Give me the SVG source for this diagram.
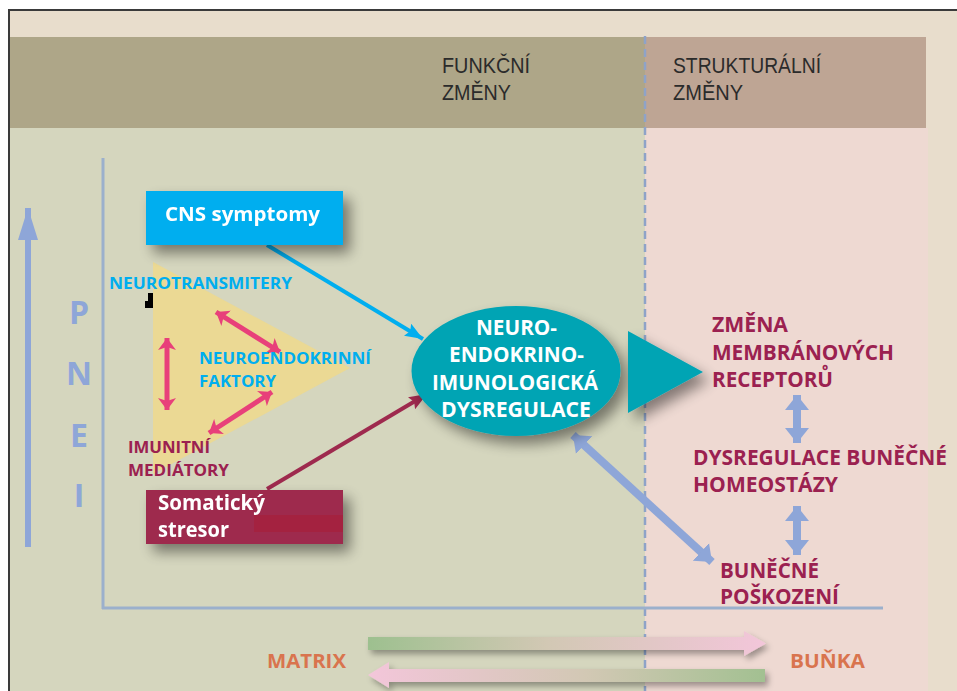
<svg xmlns="http://www.w3.org/2000/svg" width="957" height="691" viewBox="0 0 957 691">
  <style>
    .hdr { font-family: "Liberation Sans", "Open Sans", sans-serif; font-size: 22px; fill: #2b2b2b; }
    .b { font-family: "Open Sans", "Liberation Sans", sans-serif; font-weight: 700; }
    .cyan { fill: #00aeef; font-size: 16px; }
    .crim { fill: #9b2150; }
    .sm { font-size: 16.5px; }
    .rt { font-size: 20.5px; }
    .wt { fill: #ffffff; }
    .pnei { fill: #8ea6d8; font-size: 32px; text-anchor: middle; }
    .orng { fill: #d9744e; font-size: 20px; }
    .pink { stroke: #e8407a; stroke-width: 5; fill: none; }
    .blu { stroke: #8ea6d8; stroke-width: 8; fill: none; }
  </style>
  <defs>
    <filter id="sh" x="-30%" y="-30%" width="170%" height="170%">
      <feGaussianBlur in="SourceAlpha" stdDeviation="7"/>
      <feOffset dx="7" dy="8" result="o"/>
      <feComponentTransfer><feFuncA type="linear" slope="0.45"/></feComponentTransfer>
      <feMerge><feMergeNode/><feMergeNode in="SourceGraphic"/></feMerge>
    </filter>
    <filter id="sh2" x="-10%" y="-50%" width="120%" height="250%">
      <feGaussianBlur in="SourceAlpha" stdDeviation="3"/>
      <feOffset dx="3" dy="4" result="o"/>
      <feComponentTransfer><feFuncA type="linear" slope="0.35"/></feComponentTransfer>
      <feMerge><feMergeNode/><feMergeNode in="SourceGraphic"/></feMerge>
    </filter>
    <linearGradient id="gR" gradientUnits="userSpaceOnUse" x1="368" y1="0" x2="766" y2="0">
      <stop offset="0" stop-color="#9dc08f"/>
      <stop offset="0.45" stop-color="#d2c8b4"/>
      <stop offset="1" stop-color="#f3c6da"/>
    </linearGradient>
    <linearGradient id="gL" gradientUnits="userSpaceOnUse" x1="368" y1="0" x2="766" y2="0">
      <stop offset="0" stop-color="#f3c6da"/>
      <stop offset="0.55" stop-color="#d2c8b4"/>
      <stop offset="1" stop-color="#a2c091"/>
    </linearGradient>
    <marker id="mPink" viewBox="0 0 12 18" markerUnits="userSpaceOnUse" markerWidth="12" markerHeight="18" refX="12" refY="9" orient="auto-start-reverse">
      <path d="M0,0 L12,9 L0,18 L3,9 z" fill="#e8407a"/>
    </marker>
    <marker id="mCyan" viewBox="0 0 18 14" markerUnits="userSpaceOnUse" markerWidth="18" markerHeight="14" refX="18" refY="7" orient="auto">
      <path d="M0,0 L18,7 L0,14 L3,7 z" fill="#00aeef"/>
    </marker>
    <marker id="mCrim" viewBox="0 0 18 14" markerUnits="userSpaceOnUse" markerWidth="18" markerHeight="14" refX="18" refY="7" orient="auto">
      <path d="M0,0 L18,7 L0,14 L3,7 z" fill="#9e2a4e"/>
    </marker>
    <marker id="mBlue" viewBox="0 0 15 24" markerUnits="userSpaceOnUse" markerWidth="15" markerHeight="24" refX="15" refY="12" orient="auto-start-reverse">
      <path d="M0,0 L15,12 L0,24 z" fill="#8ea6d8"/>
    </marker>
    <marker id="mBig" viewBox="0 0 32 20" markerUnits="userSpaceOnUse" markerWidth="32" markerHeight="20" refX="32" refY="10" orient="auto">
      <path d="M0,0 L32,10 L0,20 z" fill="#8ea6d8"/>
    </marker>
  </defs>

  <!-- background -->
  <g id="background">
    <rect x="0" y="0" width="957" height="691" fill="#ffffff"/>
    <rect x="9" y="10" width="948" height="681" fill="#e8ddcc"/>
    <rect x="10" y="37" width="635" height="91" fill="#aea688"/>
    <rect x="645" y="37" width="281" height="91" fill="#bea594"/>
    <rect x="10" y="128" width="635" height="563" fill="#d5d6be"/>
    <rect x="645" y="128" width="283" height="563" fill="#eed9d2"/>
    <path d="M9,691 V10 H957" fill="none" stroke="#3a3a3a" stroke-width="2"/>
    <line x1="645" y1="36" x2="645" y2="691" stroke="#8ea3c8" stroke-width="2.5" stroke-dasharray="8,5"/>
  </g>

  <g id="header">
    <text class="hdr" x="442" y="73" textLength="88" lengthAdjust="spacingAndGlyphs">FUNKČNÍ</text>
    <text class="hdr" x="442" y="100" textLength="69" lengthAdjust="spacingAndGlyphs">ZMĚNY</text>
    <text class="hdr" x="673" y="73" textLength="148" lengthAdjust="spacingAndGlyphs">STRUKTURÁLNÍ</text>
    <text class="hdr" x="673" y="100" textLength="70" lengthAdjust="spacingAndGlyphs">ZMĚNY</text>
  </g>

  <g id="axes">
    <line x1="103" y1="158" x2="103" y2="609" stroke="#9bb0cc" stroke-width="3"/>
    <line x1="102" y1="608" x2="883" y2="608" stroke="#9bb0cc" stroke-width="3"/>
    <line x1="28" y1="547" x2="28" y2="208" stroke="#8ea6d8" stroke-width="6" marker-end="url(#mBig)"/>
    <g id="pnei" class="b">
      <text class="pnei" x="79" y="324">P</text>
      <text class="pnei" x="79" y="385">N</text>
      <text class="pnei" x="79" y="447">E</text>
      <text class="pnei" x="79" y="507">I</text>
    </g>
  </g>

  <g id="triangle-factors">
    <polygon points="153,262 350,368 153,474" fill="#f3da82" fill-opacity="0.7"/>
    <polygon points="148,293 153,293 153,308 145,308 145,301 148,301" fill="#000000"/>
  </g>

  <g id="connectors">
    <line class="pink" x1="167" y1="338" x2="167" y2="410" marker-start="url(#mPink)" marker-end="url(#mPink)"/>
    <line class="pink" x1="216" y1="312" x2="280" y2="352" marker-start="url(#mPink)" marker-end="url(#mPink)"/>
    <line class="pink" x1="272" y1="392" x2="209" y2="433" marker-start="url(#mPink)" marker-end="url(#mPink)"/>
    <line x1="267" y1="245" x2="423" y2="339" stroke="#00aeef" stroke-width="4" marker-end="url(#mCyan)"/>
    <line x1="267" y1="489" x2="427" y2="394" stroke="#9e2a4e" stroke-width="4" marker-end="url(#mCrim)"/>
    <line class="blu" x1="573" y1="435" x2="712" y2="562" stroke-width="7" marker-start="url(#mBlue)" marker-end="url(#mBlue)"/>
    <line class="blu" x1="797" y1="395" x2="797" y2="443" marker-start="url(#mBlue)" marker-end="url(#mBlue)"/>
    <line class="blu" x1="797" y1="506" x2="797" y2="555" marker-start="url(#mBlue)" marker-end="url(#mBlue)"/>
    <g filter="url(#sh2)">
      <polygon points="368,637 744,637 744,631 766,643.5 744,656 744,650 368,650" fill="url(#gR)"/>
      <polygon points="765,669 389,669 389,662 368,675 389,688 389,682 765,682" fill="url(#gL)"/>
    </g>
  </g>

  <g id="node-cns" filter="url(#sh)">
    <rect x="146" y="191" width="197" height="54" fill="#00aeef"/>
    <text class="b wt" x="165" y="221" font-size="20" textLength="155" lengthAdjust="spacingAndGlyphs">CNS symptomy</text>
  </g>

  <g id="node-somatic" filter="url(#sh)">
    <rect x="146" y="490" width="197" height="54" fill="#9e2a4e"/>
    <rect x="254" y="515" width="89" height="17" fill="#a4243f"/>
    <text class="b wt" x="158" y="510" font-size="21" textLength="107" lengthAdjust="spacingAndGlyphs">Somatický</text>
    <text class="b wt" x="158" y="537" font-size="21" textLength="71" lengthAdjust="spacingAndGlyphs">stresor</text>
  </g>

  <g id="labels-factors" class="b">
    <text class="cyan" x="109" y="289" textLength="183" lengthAdjust="spacingAndGlyphs">NEUROTRANSMITERY</text>
    <text class="cyan" x="199" y="364" textLength="172" lengthAdjust="spacingAndGlyphs">NEUROENDOKRINNÍ</text>
    <text class="cyan" x="199" y="387" textLength="77" lengthAdjust="spacingAndGlyphs">FAKTORY</text>
    <text class="crim sm" x="128" y="453" textLength="82" lengthAdjust="spacingAndGlyphs">IMUNITNÍ</text>
    <text class="crim sm" x="128" y="476" textLength="101" lengthAdjust="spacingAndGlyphs">MEDIÁTORY</text>
  </g>

  <g id="node-dysregulation">
    <ellipse cx="516" cy="371" rx="104.5" ry="65" fill="#00a4b4" filter="url(#sh)"/>
    <g class="b wt" font-size="21">
      <text x="476" y="335" textLength="81" lengthAdjust="spacingAndGlyphs">NEURO-</text>
      <text x="449" y="362" textLength="135" lengthAdjust="spacingAndGlyphs">ENDOKRINO-</text>
      <text x="432" y="390" textLength="166" lengthAdjust="spacingAndGlyphs">IMUNOLOGICKÁ</text>
      <text x="441" y="417" textLength="150" lengthAdjust="spacingAndGlyphs">DYSREGULACE</text>
    </g>
  </g>

  <g id="node-teal-arrow">
    <polygon points="628,331 703,372 628,413" fill="#00a4b4" filter="url(#sh)"/>
  </g>

  <g id="node-receptors" class="b crim rt">
    <text x="712" y="332" textLength="76" lengthAdjust="spacingAndGlyphs">ZMĚNA</text>
    <text x="712" y="360" textLength="182" lengthAdjust="spacingAndGlyphs">MEMBRÁNOVÝCH</text>
    <text x="712" y="387" textLength="121" lengthAdjust="spacingAndGlyphs">RECEPTORŮ</text>
  </g>

  <g id="node-homeostasis" class="b crim rt">
    <text x="693" y="465" textLength="254" lengthAdjust="spacingAndGlyphs">DYSREGULACE BUNĚČNÉ</text>
    <text x="693" y="492" textLength="145" lengthAdjust="spacingAndGlyphs">HOMEOSTÁZY</text>
  </g>

  <g id="node-damage" class="b crim rt">
    <text x="720" y="578" textLength="99" lengthAdjust="spacingAndGlyphs">BUNĚČNÉ</text>
    <text x="720" y="604" textLength="119" lengthAdjust="spacingAndGlyphs">POŠKOZENÍ</text>
  </g>

  <g id="node-matrix" class="b orng">
    <text x="267" y="668" textLength="79" lengthAdjust="spacingAndGlyphs">MATRIX</text>
  </g>
  <g id="node-cell" class="b orng">
    <text x="790" y="668" textLength="75" lengthAdjust="spacingAndGlyphs">BUŇKA</text>
  </g>
</svg>
